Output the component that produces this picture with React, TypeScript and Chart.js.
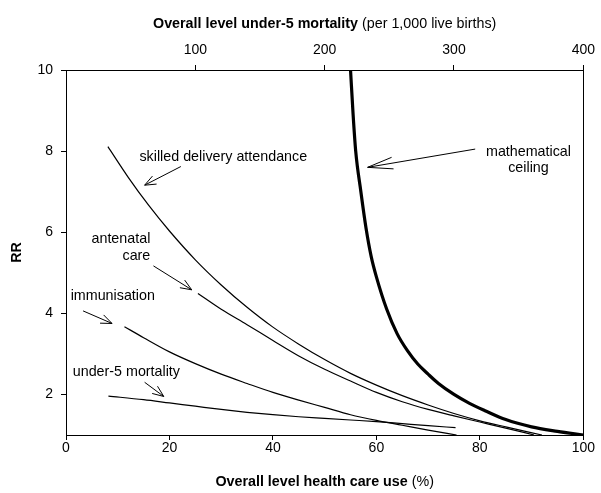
import React, { useEffect, useRef } from "react";
import { Chart, registerables } from "chart.js";

Chart.register(...registerables);

// ---- data ----
const skilledX = [8.1, 12, 16, 20, 25, 30, 35, 40, 45, 50, 55, 60, 65, 70, 75, 80, 85, 92];
const skilledY = [8.11, 7.36, 6.66, 6.03, 5.32, 4.7, 4.15, 3.66, 3.24, 2.86, 2.52, 2.23, 1.97, 1.74, 1.53, 1.35, 1.2, 1.0];

const antenatalX = [25.5, 30, 35, 40, 45, 50, 55, 60, 65, 70, 75, 80, 85, 90.5];
const antenatalY = [4.49, 4.1, 3.72, 3.33, 2.95, 2.62, 2.33, 2.05, 1.82, 1.63, 1.47, 1.32, 1.17, 1.0];

const immunisationX = [11.3, 15, 20, 25, 30, 35, 40, 45, 50, 55, 60, 65, 70, 75.5];
const immunisationY = [3.67, 3.4, 3.05, 2.76, 2.5, 2.27, 2.05, 1.86, 1.68, 1.5, 1.36, 1.24, 1.12, 1.0];

const under5X = [8.2, 15, 20, 25, 30, 35, 40, 45, 50, 55, 60, 65, 70, 75.3];
const under5Y = [1.96, 1.87, 1.79, 1.71, 1.63, 1.56, 1.5, 1.45, 1.41, 1.37, 1.33, 1.28, 1.23, 1.18];

const ceilingX = [55, 55.5, 56, 57, 58, 59, 60, 62, 64, 66, 68, 70, 72, 75, 78, 81, 85, 90, 95, 100];
const ceilingY = [10, 8.9, 8.0, 7.0, 6.1, 5.4, 4.9, 4.1, 3.5, 3.08, 2.75, 2.5, 2.27, 2.0, 1.78, 1.6, 1.38, 1.2, 1.09, 1.0];

const bottomTicks = [0, 20, 40, 60, 80, 100];
const topTicks = [100, 200, 300, 400];
const rrTicks = [2, 4, 6, 8, 10];

const topTitleBold = "Overall level under-5 mortality";
const topTitleRest = " (per 1,000 live births)";
const bottomTitleBold = "Overall level health care use";
const bottomTitleRest = " (%)";
const yTitle = "RR";

// annotations (in data units of the bottom x axis and RR axis)
const noteTexts = [
  { text: "skilled delivery attendance", x: 14.2, y: 7.86, align: "left" },
  { text: "antenatal", x: 16.3, y: 5.83, align: "right" },
  { text: "care", x: 16.3, y: 5.42, align: "right" },
  { text: "immunisation", x: 0.9, y: 4.43, align: "left" },
  { text: "under-5 mortality", x: 1.3, y: 2.55, align: "left" },
  { text: "mathematical", x: 89.4, y: 7.98, align: "center" },
  { text: "ceiling", x: 89.4, y: 7.58, align: "center" },
];
const noteArrows = [
  { x1: 22.2, y1: 7.62, x2: 15.2, y2: 7.16, len: 12, ang: 22 },
  { x1: 16.9, y1: 5.17, x2: 24.3, y2: 4.58, len: 12, ang: 22 },
  { x1: 3.3, y1: 4.06, x2: 8.9, y2: 3.75, len: 12, ang: 22 },
  { x1: 15.2, y1: 2.3, x2: 18.9, y2: 1.95, len: 12, ang: 22 },
  { x1: 79.1, y1: 8.05, x2: 58.3, y2: 7.6, len: 26, ang: 13 },
];

const FONT = "'Liberation Sans', Arial, Helvetica, sans-serif";

const toPts = (xs: number[], ys: number[]) => xs.map((x, i) => ({ x, y: ys[i] }));

const annotPlugin = {
  id: "annot",
  afterDatasetsDraw(chart: any) {
    const ctx = chart.ctx;
    const xs = chart.scales.x;
    const ys = chart.scales.y;
    ctx.save();
    ctx.fillStyle = "#000";
    ctx.strokeStyle = "#000";
    ctx.font = `14.3px ${FONT}`;
    ctx.textBaseline = "middle";
    noteTexts.forEach((n) => {
      ctx.textAlign = n.align;
      ctx.fillText(n.text, xs.getPixelForValue(n.x), ys.getPixelForValue(n.y));
    });
    ctx.lineWidth = 1;
    noteArrows.forEach((a) => {
      const px1 = xs.getPixelForValue(a.x1);
      const py1 = ys.getPixelForValue(a.y1);
      const px2 = xs.getPixelForValue(a.x2);
      const py2 = ys.getPixelForValue(a.y2);
      ctx.beginPath();
      ctx.moveTo(px1, py1);
      ctx.lineTo(px2, py2);
      const th = Math.atan2(py1 - py2, px1 - px2);
      const d = (a.ang * Math.PI) / 180;
      ctx.moveTo(px2 + a.len * Math.cos(th + d), py2 + a.len * Math.sin(th + d));
      ctx.lineTo(px2, py2);
      ctx.lineTo(px2 + a.len * Math.cos(th - d), py2 + a.len * Math.sin(th - d));
      ctx.stroke();
    });
    ctx.restore();
  },
  afterDraw(chart: any) {
    const ctx = chart.ctx;
    const area = chart.chartArea;
    const cx = (area.left + area.right) / 2;
    ctx.save();
    ctx.fillStyle = "#000";
    ctx.textBaseline = "middle";
    ctx.textAlign = "left";
    const mixed = (bold: string, rest: string, y: number) => {
      ctx.font = `bold 14.3px ${FONT}`;
      const wb = ctx.measureText(bold).width;
      ctx.font = `14.3px ${FONT}`;
      const wr = ctx.measureText(rest).width;
      const x0 = cx - (wb + wr) / 2;
      ctx.font = `bold 14.3px ${FONT}`;
      ctx.fillText(bold, x0, y);
      ctx.font = `14.3px ${FONT}`;
      ctx.fillText(rest, x0 + wb, y);
    };
    mixed(topTitleBold, topTitleRest, 24);
    mixed(bottomTitleBold, bottomTitleRest, 482);
    ctx.translate(17, (area.top + area.bottom) / 2);
    ctx.rotate(-Math.PI / 2);
    ctx.textAlign = "center";
    ctx.font = `bold 14.3px ${FONT}`;
    ctx.fillText(yTitle, 0, 0);
    ctx.restore();
  },
};

export default function App() {
  const ref = useRef<HTMLCanvasElement | null>(null);
  useEffect(() => {
    if (!ref.current) return;
    const tickFont = { family: FONT, size: 14 };
    const gridOpts = { display: true, drawOnChartArea: false, drawTicks: true, tickLength: 5, color: "#000" };
    const borderOpts = { display: true, color: "#000", width: 1 };
    const mk = (data: any[], w: number) => ({
      data,
      borderColor: "#000",
      borderWidth: w,
      pointRadius: 0,
      fill: false,
      cubicInterpolationMode: "monotone" as const,
      xAxisID: "x",
      yAxisID: "y",
    });
    const chart = new Chart(ref.current, {
      type: "line",
      data: {
        datasets: [
          mk(toPts(skilledX, skilledY), 1.2),
          mk(toPts(antenatalX, antenatalY), 1.2),
          mk(toPts(immunisationX, immunisationY), 1.2),
          mk(toPts(under5X, under5Y), 1.2),
          mk(toPts(ceilingX, ceilingY), 3.2),
        ],
      },
      options: {
        responsive: false,
        animation: false,
        devicePixelRatio: 1,
        layout: { padding: 0 },
        plugins: { legend: { display: false }, tooltip: { enabled: false }, title: { display: false } },
        scales: {
          x: {
            type: "linear",
            position: "bottom",
            min: 0,
            max: 100,
            afterBuildTicks: (s: any) => { s.ticks = bottomTicks.map((v) => ({ value: v })); },
            afterFit: (s: any) => { s.height = 58; },
            ticks: { font: tickFont, color: "#000", padding: 0, maxRotation: 0, autoSkip: false },
            grid: gridOpts,
            border: borderOpts,
          },
          x2: {
            type: "linear",
            position: "top",
            min: 0,
            max: 400,
            afterBuildTicks: (s: any) => { s.ticks = topTicks.map((v) => ({ value: v })); },
            afterFit: (s: any) => { s.height = 70; },
            ticks: { font: tickFont, color: "#000", padding: 6, maxRotation: 0, autoSkip: false },
            grid: gridOpts,
            border: borderOpts,
          },
          y: {
            type: "linear",
            position: "left",
            min: 1,
            max: 10,
            afterBuildTicks: (s: any) => { s.ticks = rrTicks.map((v) => ({ value: v })); },
            afterFit: (s: any) => { s.width = 66; },
            ticks: { font: tickFont, color: "#000", padding: 8, autoSkip: false },
            grid: gridOpts,
            border: borderOpts,
          },
          y2: {
            type: "linear",
            position: "right",
            min: 1,
            max: 10,
            afterFit: (s: any) => { s.width = 14; },
            ticks: { display: false },
            grid: { display: false },
            border: borderOpts,
          },
        },
      },
      plugins: [annotPlugin],
    } as any);
    return () => chart.destroy();
  }, []);
  return (
    <div style={{ position: "absolute", left: 0, top: 0, width: 601, height: 493, background: "#fff" }}>
      <canvas ref={ref} width={601} height={493} style={{ display: "block" }} />
    </div>
  );
}
